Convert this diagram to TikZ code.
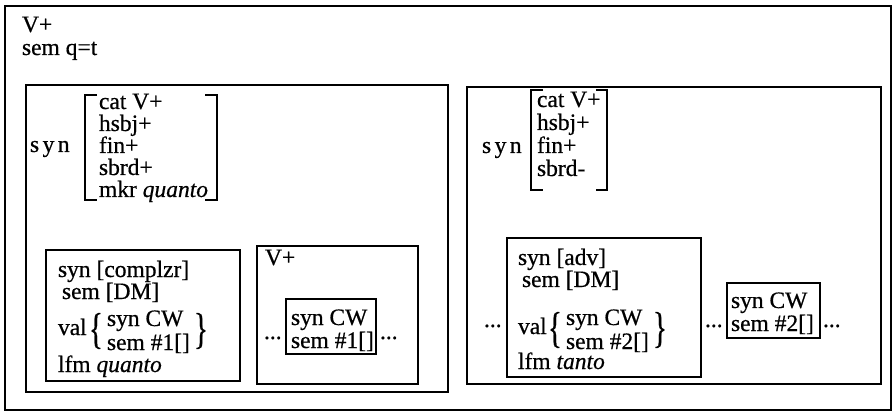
\documentclass[tikz,border=0pt]{standalone}
\usepackage{fontspec}
\setmainfont[FakeBold=0.6]{Liberation Serif}
\newcommand{\spacedsyn}{s\kern3.5pt y\kern3.5pt n}
\newcommand{\tallbrace}[1]{\scalebox{1.25}[1.85]{#1}}
\begin{document}
\begin{tikzpicture}[x=1pt,y=-1pt,
  box/.style={draw,line width=1.7pt},
  brk/.style={draw,line width=1.8pt},
  lbl/.style={anchor=base west,inner sep=0pt,outer sep=0pt,
    text height=15pt,text depth=3pt,font=\fontsize{23.5}{22}\selectfont},
  brc/.style={anchor=center,inner sep=0pt,outer sep=0pt,font=\fontsize{23.5}{22}\selectfont},
]
\useasboundingbox (0,0) rectangle (893,411);

% frames
\draw[box] (5,6) rectangle (891,410);
\draw[box] (26,85) rectangle (448,392);
\draw[box] (467,87) rectangle (881,384);
\draw[box] (46,250) rectangle (240,381);
\draw[box] (257,246) rectangle (418,384);
\draw[box] (286,299) rectangle (376,354);
\draw[box] (507,238) rectangle (701,377);
\draw[box] (727,283) rectangle (820,338);

% outer feature structure
\node[lbl] (top1) at (22,32) {V+};
\node[lbl] (top2) at (22,55) {sem q=t};

% left syn matrix
\node[lbl] (lsyn) at (30,152) {\spacedsyn};
\draw[brk] (97,95) -- (85,95) -- (85,200) -- (97,200);
\draw[brk] (205,95) -- (217,95) -- (217,200) -- (205,200);
\node[lbl] (lcat) at (99,109) {cat V+};
\node[lbl] (lhsbj) at (99,131) {hsbj+};
\node[lbl] (lfin) at (99,153) {fin+};
\node[lbl] (lsbrd) at (99,175) {sbrd+};
\node[lbl] (lmkr) at (99,197) {mkr \textit{quanto}};

% right syn matrix
\node[lbl] (rsyn) at (482,153) {\spacedsyn};
\draw[brk] (543,90) -- (531,90) -- (531,190) -- (543,190);
\draw[brk] (596,90) -- (607,90) -- (607,190) -- (596,190);
\node[lbl] (rcat) at (537,107) {cat V+};
\node[lbl] (rhsbj) at (537,130) {hsbj+};
\node[lbl] (rfin) at (537,153) {fin+};
\node[lbl] (rsbrd) at (537,176) {sbrd-};

% complementizer entry
\node[lbl] (c1) at (58,277) {syn [complzr]};
\node[lbl] (c2) at (62,299) {sem [DM]};
\node[lbl] (c3) at (58,335) {val};
\node[brc] (c4) at (96,331) {\tallbrace\{};
\node[lbl] (c5) at (107,326) {syn CW};
\node[lbl] (c6) at (107,350) {sem \#1[]};
\node[brc, anchor=west] (c7) at ([xshift=4pt]c6.east |- c4) {\tallbrace\}};
\node[lbl] (c8) at (58,372) {lfm \textit{quanto}};

% V+ with its CW slot
\node[lbl] (v1) at (265,265) {V+};
\node[lbl] (v2) at (264,339) {...};
\node[lbl] (v3) at (291,325) {syn CW};
\node[lbl] (v4) at (291,348) {sem \#1[]};
\node[lbl] (v5) at (380,339) {...};

% adverb entry
\node[lbl] (a0) at (484,327) {...};
\node[lbl] (a1) at (518,265) {syn [adv]};
\node[lbl] (a2) at (522,287) {sem [DM]};
\node[lbl] (a3) at (518,334) {val};
\node[brc] (a4) at (555,330) {\tallbrace\{};
\node[lbl] (a5) at (566,325) {syn CW};
\node[lbl] (a6) at (566,349) {sem \#2[]};
\node[brc, anchor=west] (a7) at ([xshift=4pt]a6.east |- a4) {\tallbrace\}};
\node[lbl] (a8) at (518,369) {lfm \textit{tanto}};

% second CW slot
\node[lbl] (w0) at (705,327) {...};
\node[lbl] (w1) at (731,308) {syn CW};
\node[lbl] (w2) at (731,331) {sem \#2[]};
\node[lbl] (w3) at (823,327) {...};
\end{tikzpicture}
\end{document}
